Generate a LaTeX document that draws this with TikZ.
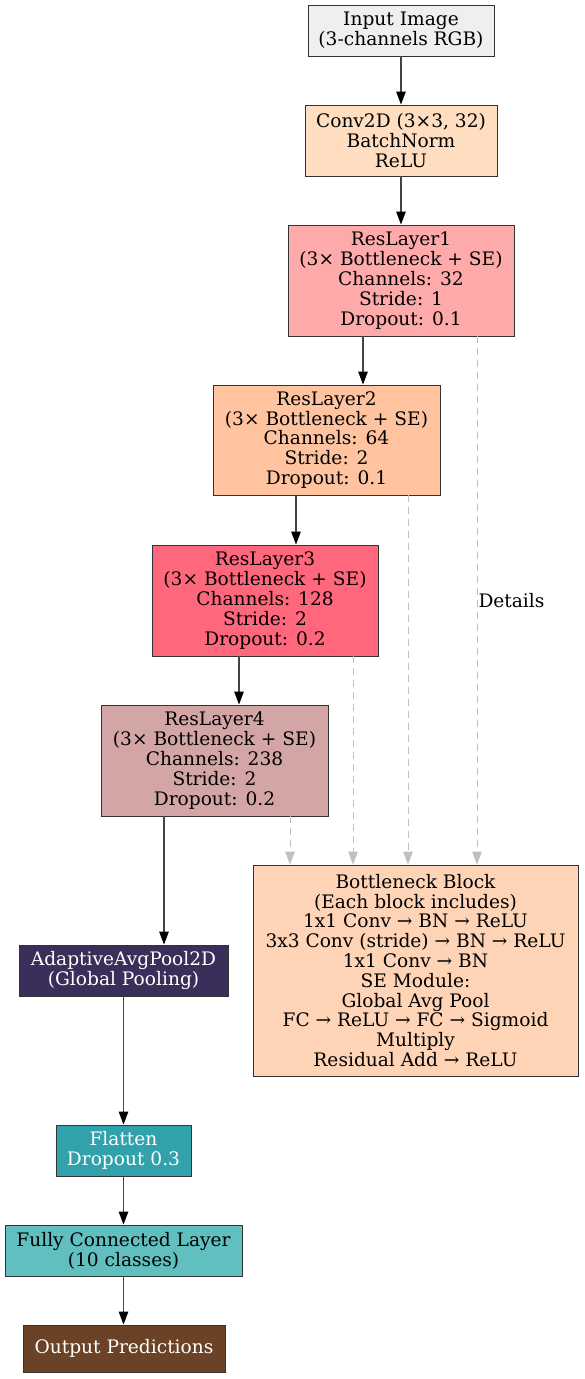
\documentclass[tikz,border=0pt]{standalone}
\usepackage{fontspec}
\setmainfont{DejaVu Serif}
\usetikzlibrary{arrows.meta,calc}
\definecolor{cinput}{HTML}{EFEFEF}
\definecolor{cconv}{HTML}{FFDDC1}
\definecolor{cresa}{HTML}{FFAAAA}
\definecolor{cresb}{HTML}{FFC3A0}
\definecolor{cresc}{HTML}{FF677D}
\definecolor{cresd}{HTML}{D4A5A5}
\definecolor{cbottle}{HTML}{FFD3B6}
\definecolor{cpool}{HTML}{392F5A}
\definecolor{cflat}{HTML}{31A2AC}
\definecolor{cfc}{HTML}{61C0BF}
\definecolor{cout}{HTML}{6B4226}
\definecolor{cedge}{HTML}{444444}
\definecolor{cdash}{HTML}{C0C0C0}
\tikzset{
  txt/.style={font=\fontsize{18.6}{19.8}\selectfont},
  box/.style={draw=black!80, line width=0.9pt, inner sep=0pt, align=center, txt},
  arr/.style={draw=cedge, line width=1.3pt, -{Triangle[length=13pt,width=9.5pt,color=black]}},
  darr/.style={draw=cdash, line width=1pt, dash pattern=on 7pt off 5pt,
    -{Triangle[length=13pt,width=9.5pt,color=cdash]}},
}
\begin{document}
\begin{tikzpicture}[x=1pt,y=1pt]
\useasboundingbox (0,0) rectangle (584,-1379);
\node[box, fill=cinput, minimum width=186, minimum height=51] (inp) at (401,-30.5) {Input Image\\(3-channels RGB)};
\node[box, fill=cconv, minimum width=192, minimum height=71] (conv) at (401,-140.5) {Conv2D (3×3, 32)\\BatchNorm\\ReLU};
\node[box, fill=cresa, minimum width=226, minimum height=111] (res1) at (401,-280.5) {ResLayer1\\(3× Bottleneck + SE)\\Channels: 32\\Stride: 1\\Dropout: 0.1};
\node[box, fill=cresb, minimum width=227, minimum height=110] (res2) at (326.5,-440) {ResLayer2\\(3× Bottleneck + SE)\\Channels: 64\\Stride: 2\\Dropout: 0.1};
\node[box, fill=cresc, minimum width=226, minimum height=111] (res3) at (265,-600.5) {ResLayer3\\(3× Bottleneck + SE)\\Channels: 128\\Stride: 2\\Dropout: 0.2};
\node[box, fill=cresd, minimum width=227, minimum height=111] (res4) at (214.5,-760.5) {ResLayer4\\(3× Bottleneck + SE)\\Channels: 238\\Stride: 2\\Dropout: 0.2};
\node[box, fill=cbottle, minimum width=325, minimum height=211] (bott) at (415.5,-970.5) {Bottleneck Block\\(Each block includes)\\1x1 Conv → BN → ReLU\\3x3 Conv (stride) → BN → ReLU\\1x1 Conv → BN\\SE Module:\\Global Avg Pool\\FC → ReLU → FC → Sigmoid\\Multiply\\Residual Add → ReLU};
\node[box, fill=cpool, text=white, minimum width=209, minimum height=51] (pool) at (123.5,-970.5) {AdaptiveAvgPool2D\\(Global Pooling)};
\node[box, fill=cflat, text=white, minimum width=135, minimum height=51] (flat) at (123.5,-1150.5) {Flatten\\Dropout 0.3};
\node[box, fill=cfc, minimum width=237, minimum height=51] (fc) at (123.5,-1250.5) {Fully Connected Layer\\(10 classes)};
\node[box, fill=cout, text=white, minimum width=202, minimum height=47] (out) at (124,-1348.5) {Output Predictions};

\draw[arr] (inp) -- (conv);
\draw[arr] (conv) -- (res1);
\draw[arr] ([xshift=-38pt]res1.south) -- ([xshift=-38pt]res1.south |- res2.north);
\draw[arr] ([xshift=-30.5pt]res2.south) -- ([xshift=-30.5pt]res2.south |- res3.north);
\draw[arr] ([xshift=-26pt]res3.south) -- ([xshift=-26pt]res3.south |- res4.north);
\draw[arr] ([xshift=-50.5pt]res4.south) -- ([xshift=-50.5pt]res4.south |- pool.north);
\draw[arr] (pool) -- (flat);
\draw[arr] (flat) -- (fc);
\draw[arr] (fc.south) -- (fc.south |- out.north);

\draw[darr] ([xshift=76pt]res1.south) -- ([xshift=76pt]res1.south |- bott.north)
  node[pos=0.5, right, inner sep=1pt, txt] (det) {Details};
\draw[darr] ([xshift=81.5pt]res2.south) -- ([xshift=81.5pt]res2.south |- bott.north);
\draw[darr] ([xshift=88pt]res3.south) -- ([xshift=88pt]res3.south |- bott.north);
\draw[darr] ([xshift=75.5pt]res4.south) -- ([xshift=75.5pt]res4.south |- bott.north);
\end{tikzpicture}
\end{document}
